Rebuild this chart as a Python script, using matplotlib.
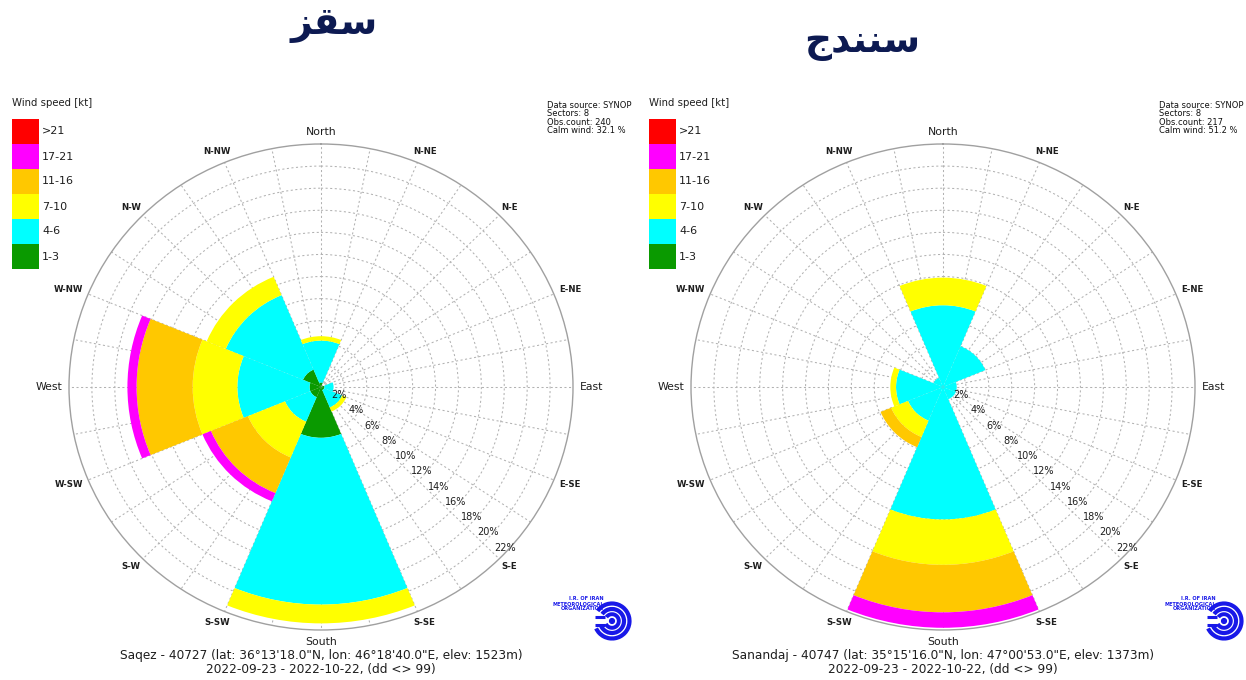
import numpy as np
import matplotlib
matplotlib.use("Agg")
import matplotlib.pyplot as plt
from matplotlib.patches import Rectangle, Arc, Circle
import matplotlib.transforms as mtransforms

plt.rcParams["font.family"] = ["DejaVu Sans"]

W_PX, H_PX, DPI = 1246, 680, 100

# ---------------------------------------------------------------- data
sector_deg = [0, 45, 90, 135, 180, 225, 270, 315]          # N, NE, E, SE, S, SW, W, NW
speed_classes = ["1-3", "4-6", "7-10", "11-16", "17-21", ">21"]
class_colors = ["#0a9a00", "#00ffff", "#ffff00", "#ffc800", "#ff00ff", "#ff0000"]

# Saqez: frequency (% of observations) per sector and speed class
saqez_1_3 = [0.4, 0.0, 0.3, 0.3, 4.6, 1.0, 1.0, 1.7]
saqez_4_6 = [3.8, 0.0, 0.8, 1.7, 15.1, 2.4, 6.3, 7.3]
saqez_7_10 = [0.4, 0.0, 0.0, 0.4, 1.7, 3.5, 3.9, 1.8]
saqez_11_16 = [0.0, 0.0, 0.0, 0.0, 0.0, 3.5, 4.9, 0.0]
saqez_17_21 = [0.0, 0.0, 0.0, 0.0, 0.0, 0.8, 0.8, 0.0]
saqez_gt21 = [0.0, 0.0, 0.0, 0.0, 0.0, 0.0, 0.0, 0.0]

# Sanandaj
sanandaj_1_3 = [0.0, 0.0, 0.0, 0.0, 0.0, 0.0, 0.0, 0.0]
sanandaj_4_6 = [7.4, 4.0, 1.2, 1.2, 12.0, 3.3, 4.1, 0.9]
sanandaj_7_10 = [2.5, 0.0, 0.0, 0.0, 4.1, 1.6, 0.5, 0.0]
sanandaj_11_16 = [0.0, 0.0, 0.0, 0.0, 4.3, 1.0, 0.0, 0.0]
sanandaj_17_21 = [0.0, 0.0, 0.0, 0.0, 1.4, 0.0, 0.0, 0.0]
sanandaj_gt21 = [0.0, 0.0, 0.0, 0.0, 0.0, 0.0, 0.0, 0.0]

ring_values = [2, 4, 6, 8, 10, 12, 14, 16, 18, 20, 22]
direction_labels = ["North", "N-NE", "N-E", "E-NE", "East", "E-SE", "S-E", "S-SE",
                    "South", "S-SW", "S-W", "W-SW", "West", "W-NW", "N-W", "N-NW"]

city_titles = ["سقز", "سنندج"]
station_lines = [
    "Saqez - 40727 (lat: 36°13'18.0\"N, lon: 46°18'40.0\"E, elev: 1523m)",
    "Sanandaj - 40747 (lat: 35°15'16.0\"N, lon: 47°00'53.0\"E, elev: 1373m)",
]
period_line = "2022-09-23 - 2022-10-22, (dd <> 99)"
info_lines = [
    ["Data source: SYNOP", "Sectors: 8", "Obs.count: 240", "Calm wind: 32.1 %"],
    ["Data source: SYNOP", "Sectors: 8", "Obs.count: 217", "Calm wind: 51.2 %"],
]
logo_lines = ["I.R. OF IRAN", "METEOROLOGICAL", "ORGANIZATION"]

saqez = [saqez_1_3, saqez_4_6, saqez_7_10, saqez_11_16, saqez_17_21, saqez_gt21]
sanandaj = [sanandaj_1_3, sanandaj_4_6, sanandaj_7_10, sanandaj_11_16,
            sanandaj_17_21, sanandaj_gt21]


# ------------------------------------------------- Arabic-script shaping
_FORMS = {  # isolated, final, initial, medial
    "س": (0xFEB1, 0xFEB2, 0xFEB3, 0xFEB4),
    "ق": (0xFED5, 0xFED6, 0xFED7, 0xFED8),
    "ز": (0xFEAF, 0xFEB0, None, None),
    "ن": (0xFEE5, 0xFEE6, 0xFEE7, 0xFEE8),
    "د": (0xFEA9, 0xFEAA, None, None),
    "ج": (0xFE9D, 0xFE9E, 0xFE9F, 0xFEA0),
}


def shape_rtl(word):
    def dual(c):
        return c in _FORMS and _FORMS[c][2] is not None
    out = []
    for i, c in enumerate(word):
        prev_j = i > 0 and dual(word[i - 1])
        next_j = i < len(word) - 1 and dual(c) and word[i + 1] in _FORMS
        iso, fin, ini, med = _FORMS[c]
        if prev_j and next_j:
            cp = med
        elif prev_j:
            cp = fin
        elif next_j:
            cp = ini
        else:
            cp = iso
        out.append(chr(cp))
    return "".join(reversed(out))


# ---------------------------------------------------------------- figure
fig = plt.figure(figsize=(W_PX / DPI, H_PX / DPI), dpi=DPI)
fig.patch.set_facecolor("white")


def fx(x):
    return x / W_PX


def fy(y):
    return 1 - y / H_PX


GRID_C = "#b2b2b2"
TEXT_C = "#1e1e1e"
RMAX = 22


def draw_rose(box, classes, title, title_xy, station, info, info_x, legend_x, logo_xy):
    x0, y0, x1, y1 = box
    ax = fig.add_axes([fx(x0), fy(y1), fx(x1 - x0), (y1 - y0) / H_PX], projection="polar")
    ax.set_aspect("auto")
    ax.set_theta_zero_location("N")
    ax.set_theta_direction(-1)
    ax.set_ylim(0, RMAX)
    ax.set_axisbelow(True)

    theta = np.deg2rad(sector_deg)
    width = np.deg2rad(45)
    bottom = np.zeros(len(sector_deg))
    for vals, col in zip(classes, class_colors):
        vals = np.asarray(vals, dtype=float)
        ax.bar(theta, vals, width=width, bottom=bottom, color=col,
               edgecolor="none", linewidth=0, align="center", zorder=2)
        bottom += vals

    ax.set_xticks(np.deg2rad(np.arange(0, 360, 11.25)))
    ax.set_xticklabels([])
    ax.set_yticks(ring_values[:-1])
    ax.set_yticklabels([])
    ax.tick_params(length=0)
    ax.grid(True, color=GRID_C, linestyle=(0, (2, 2.4)), linewidth=0.75)
    ax.spines["polar"].set_color("#a0a0a0")
    ax.spines["polar"].set_linewidth(1.0)

    # radial percentage labels
    off = mtransforms.offset_copy(ax.transData, fig=fig, x=4.0, y=4.7, units="dots")
    for v in ring_values:
        ax.text(np.deg2rad(133.6), v - 0.3, f"{v}%", transform=off, ha="center",
                va="center", fontsize=7, color=TEXT_C, zorder=5)

    # compass labels around the outer ring
    renderer = fig.canvas.get_renderer()
    for i, lab in enumerate(direction_labels):
        ang = np.deg2rad(i * 22.5)
        cardinal = i % 4 == 0
        t = ax.annotate(lab, xy=(ang, RMAX), xytext=(0, 0), textcoords="offset pixels",
                        ha="center", va="center", color=TEXT_C,
                        fontsize=7.8 if cardinal else 6.2,
                        fontweight="normal" if cardinal else "bold",
                        annotation_clip=False)
        bb = t.get_window_extent(renderer)
        s, c = np.sin(ang), np.cos(ang)
        gap = 7
        t.xyann = (s * (gap + bb.width / 2), c * (gap + bb.height / 2))

    # legend
    fig.text(fx(legend_x), fy(103), "Wind speed [kt]", fontsize=7.3, color=TEXT_C,
             ha="left", va="center")
    top = 119
    for k, (lab, col) in enumerate(zip(reversed(speed_classes), reversed(class_colors))):
        yk = top + 25 * k
        fig.add_artist(Rectangle((fx(legend_x), fy(yk + 25)), fx(27), 25 / H_PX,
                                 transform=fig.transFigure, facecolor=col,
                                 edgecolor="none"))
        fig.text(fx(legend_x + 30), fy(yk + 12.5), lab, fontsize=8, color=TEXT_C,
                 ha="left", va="center")

    # info block
    for k, line in enumerate(info):
        fig.text(fx(info_x), fy(105 + 8.6 * k), line, fontsize=6, color="#111111",
                 ha="left", va="center")

    # city title
    fig.text(fx(title_xy[0]), fy(title_xy[1]), shape_rtl(title), fontsize=27,
             fontweight="bold", color="#0d1a52", ha="center", va="center",
             family=["DejaVu Sans", "Noto Sans"])

    # station footer
    cx = (x0 + x1) / 2
    fig.text(fx(cx), fy(656), station, fontsize=8.7, color=TEXT_C, ha="center", va="center")
    fig.text(fx(cx), fy(669), period_line, fontsize=8.7, color=TEXT_C, ha="center",
             va="center")

    # organisation logo
    lx, ly = logo_xy
    lax = fig.add_axes([fx(lx - 24), fy(ly + 24), fx(48), 48 / H_PX])
    lax.set_xlim(-24, 24)
    lax.set_ylim(-24, 24)
    lax.set_aspect("equal")
    lax.axis("off")
    blue = "#1818e8"
    for r, lw in [(17.5, 3.0), (12, 3.0), (6.8, 2.8)]:
        lax.add_patch(Arc((0, 0), 2 * r, 2 * r, theta1=205, theta2=505, color=blue, lw=lw))
    for yy in (-4, 4):
        lax.plot([-17.5, -7], [yy, yy], color=blue, lw=2.2, solid_capstyle="butt")
    lax.add_patch(Circle((0, 0), 2.4, color=blue))
    for k, line in enumerate(logo_lines):
        fig.text(fx(lx - 8), fy(ly - 22 + 5 * k), line, fontsize=3.6, fontweight="bold",
                 color=blue, ha="right", va="center")


draw_rose((69, 144, 573, 630), saqez, city_titles[0], (334, 25), station_lines[0],
          info_lines[0], 547, 12, (612, 621))
draw_rose((691, 144, 1195, 630), sanandaj, city_titles[1], (862, 43), station_lines[1],
          info_lines[1], 1159, 649, (1224, 621))

fig.savefig("out.png", dpi=DPI, facecolor="white")
